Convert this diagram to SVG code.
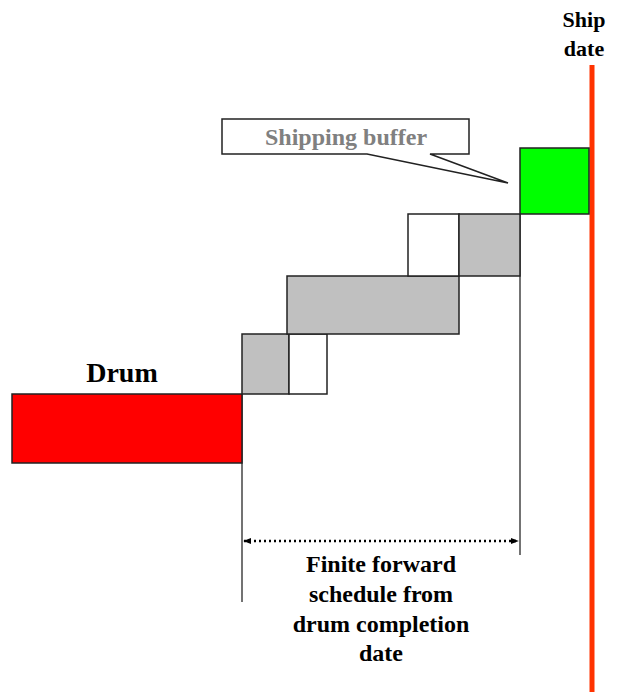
<svg xmlns="http://www.w3.org/2000/svg" width="618" height="692" viewBox="0 0 618 692">
<style>
.box{stroke:#222;stroke-width:1.5}
.gray{fill:#c0c0c0}
.white{fill:#fff}
.t{font-family:"Liberation Serif","Times New Roman",serif;font-weight:bold;text-anchor:middle;fill:#000}
.vl{stroke:#444;stroke-width:1.5;fill:none}
</style>
<defs>
<marker id="ah" viewBox="0 0 10 10" refX="9" refY="5" markerWidth="8" markerHeight="8" markerUnits="userSpaceOnUse" orient="auto-start-reverse">
<path d="M0,1 L10,5 L0,9 z" fill="#000"/>
</marker>
</defs>
<rect width="618" height="692" fill="#fff"/>
<g id="connectors">
<line class="vl" x1="242" y1="394" x2="242" y2="602"/>
<line class="vl" x1="520" y1="214" x2="520" y2="555"/>
<line x1="244" y1="541" x2="518" y2="541" stroke="#000" stroke-width="2.5" stroke-dasharray="2,3" marker-start="url(#ah)" marker-end="url(#ah)"/>
</g>
<g id="ship-line">
<line x1="592" y1="65" x2="592" y2="692" stroke="#ff3300" stroke-width="5"/>
<text class="t" x="584" y="27" font-size="22">Ship</text>
<text class="t" x="584" y="56" font-size="22">date</text>
</g>
<g id="drum">
<rect class="box" x="12" y="394" width="230" height="69" fill="#ff0000"/>
<text class="t" x="122" y="382" font-size="28">Drum</text>
</g>
<g id="op1"><rect class="box gray" x="242" y="334" width="47" height="60"/></g>
<g id="op1w"><rect class="box white" x="289" y="334" width="38" height="60"/></g>
<g id="op2"><rect class="box gray" x="287" y="276" width="172" height="58"/></g>
<g id="op3w"><rect class="box white" x="408" y="214" width="51" height="62"/></g>
<g id="op3"><rect class="box gray" x="459" y="214" width="61" height="62"/></g>
<g id="buffer"><rect x="520" y="148" width="69" height="66" fill="#00ff00" stroke="#222" stroke-width="1.5"/></g>
<g id="callout">
<path d="M222,119 H469 V154 H430 L508,183 L367,154 H222 Z" fill="#fff" stroke="#222" stroke-width="1.5"/>
<text class="t" x="346" y="145" font-size="24" style="fill:#808080">Shipping buffer</text>
</g>
<g id="label">
<text class="t" x="381" y="572" font-size="24">Finite forward</text>
<text class="t" x="381" y="602" font-size="24">schedule from</text>
<text class="t" x="381" y="632" font-size="24">drum completion</text>
<text class="t" x="381" y="661" font-size="24">date</text>
</g>
</svg>
